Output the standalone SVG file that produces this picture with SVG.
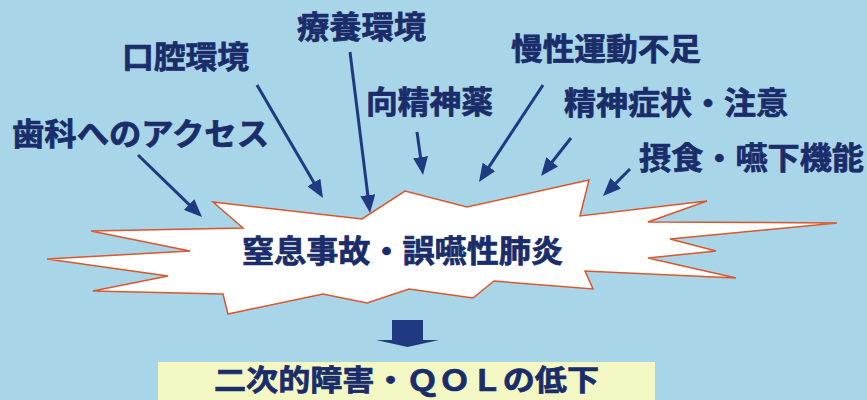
<svg xmlns="http://www.w3.org/2000/svg" width="867" height="400" viewBox="0 0 867 400">
  <defs>
    <marker id="ah" viewBox="0 0 18 15" refX="4" refY="7.5" markerWidth="18" markerHeight="15" markerUnits="userSpaceOnUse" orient="auto">
      <path d="M0,0 L18,7.5 L0,15 z" fill="#1f3a80"/>
    </marker>
  </defs>
  <style>
    .lbl { font-family: "Noto Sans CJK JP", "Noto Sans CJK SC", sans-serif; font-weight: bold; font-size: 31px; fill: #1a2d6a; stroke: #1a2d6a; stroke-width: 0.7px; }
    .arr { stroke: #1f3a80; stroke-width: 3; fill: none; marker-end: url(#ah); }
    .burst { fill: #ffffff; stroke: #d9572c; stroke-width: 1.5; stroke-linejoin: miter; }
  </style>
  <rect x="0" y="0" width="867" height="400" fill="#a9d5e8"/>

  <g id="labels">
    <g id="n-dental"><text class="lbl" x="12" y="145" textLength="257" lengthAdjust="spacingAndGlyphs">歯科へのアクセス</text></g>
    <g id="n-oral"><text class="lbl" x="122" y="68" textLength="127" lengthAdjust="spacingAndGlyphs">口腔環境</text></g>
    <g id="n-care"><text class="lbl" x="297" y="38" textLength="129" lengthAdjust="spacingAndGlyphs">療養環境</text></g>
    <g id="n-drug"><text class="lbl" x="366" y="113" textLength="127" lengthAdjust="spacingAndGlyphs">向精神薬</text></g>
    <g id="n-exercise"><text class="lbl" x="511" y="60" textLength="190" lengthAdjust="spacingAndGlyphs">慢性運動不足</text></g>
    <g id="n-psych"><text class="lbl" x="564" y="114" textLength="224" lengthAdjust="spacingAndGlyphs">精神症状・注意</text></g>
    <g id="n-swallow"><text class="lbl" x="639" y="169" textLength="225" lengthAdjust="spacingAndGlyphs">摂食・嚥下機能</text></g>
  </g>

  <g id="connectors">
    <line class="arr" x1="138" y1="155" x2="192.0" y2="207.3"/>
    <line class="arr" x1="257" y1="85" x2="315.9" y2="185.9"/>
    <line class="arr" x1="350" y1="52" x2="368.3" y2="199.1"/>
    <line class="arr" x1="417" y1="132" x2="421.1" y2="161.1"/>
    <line class="arr" x1="543" y1="85" x2="486.7" y2="170.3"/>
    <line class="arr" x1="571" y1="138" x2="549.7" y2="165.0"/>
    <line class="arr" x1="630" y1="169" x2="612.9" y2="186.1"/>
    <path id="block-arrow" d="M392,320 H423 V340 H439 L407.5,347 L376,340 H392 Z" fill="#1f3a80"/>
  </g>

  <g id="n-accident">
    <polygon class="burst" points="213,202 362,219 405,191 467,207 589,180 580,216 707,201 648,222 837,223 670,239 716,251 648,258 736,278 585,271 593,289 494,281 473,298 409,289 367,303 323,294 228,314 223,294 93,291 168,276 47,259 190,251 91,231 243,228"/>
    <text class="lbl" x="242" y="262" textLength="321" lengthAdjust="spacingAndGlyphs">窒息事故・誤嚥性肺炎</text>
  </g>

  <g id="n-result">
    <rect x="158" y="362" width="497" height="40" fill="#f3f7c4"/>
    <text class="lbl" x="214" y="391" style="font-size:29px" textLength="385" lengthAdjust="spacingAndGlyphs">二次的障害・ＱＯＬの低下</text>
  </g>
</svg>
